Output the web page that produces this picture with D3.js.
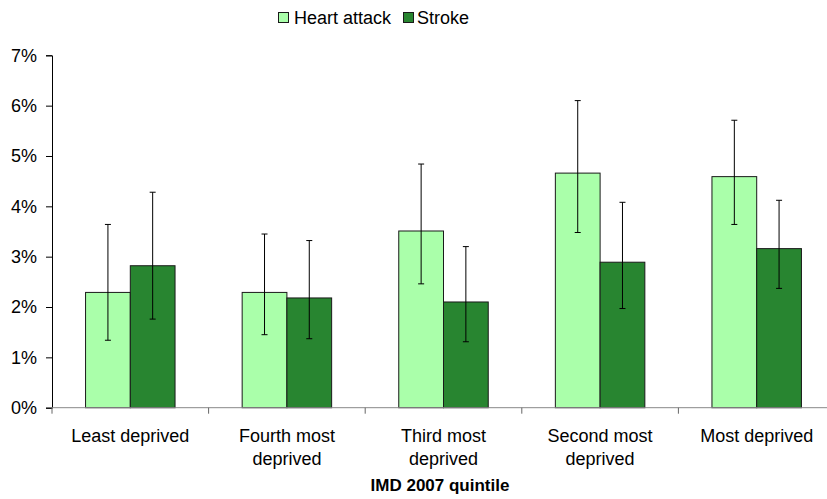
<!DOCTYPE html>
<html>
<head>
<meta charset="utf-8">
<script src="https://cdn.jsdelivr.net/npm/d3@7"></script>
<style>
  body { margin: 0; background: #fff; }
  text { font-family: "Liberation Sans", Arial, sans-serif; fill: #000; }
</style>
</head>
<body>
<div id="chart"></div>
<script>
// chart data
var categories = [["Least deprived"], ["Fourth most", "deprived"], ["Third most", "deprived"], ["Second most", "deprived"], ["Most deprived"]];
var seriesNames = ["Heart attack", "Stroke"];
var heartAttack = [0.0229, 0.0229, 0.0351, 0.0466, 0.0459];
var heartLow = [0.0134, 0.0145, 0.0246, 0.0348, 0.0364];
var heartHigh = [0.0364, 0.0345, 0.0484, 0.0610, 0.0571];
var stroke = [0.0282, 0.0218, 0.0210, 0.0289, 0.0316];
var strokeLow = [0.0176, 0.0137, 0.0131, 0.0197, 0.0237];
var strokeHigh = [0.0428, 0.0332, 0.0320, 0.0408, 0.0412];
var yTicks = [0, 0.01, 0.02, 0.03, 0.04, 0.05, 0.06, 0.07];
var xTitle = "IMD 2007 quintile";

var colors = ["#aaffaa", "#288530"];
var W = 827, H = 499;
var plotLeft = 52, plotTop = 55.3, plotBottom = 407.7, catW = 156.6;
var fs = 18;

var svg = d3.select("#chart").append("svg").attr("width", W).attr("height", H);

var keys = categories.map(function (c) { return c.join(" "); });
var x0 = d3.scaleBand().domain(keys).range([plotLeft, plotLeft + catW * 5]);
var barW = catW / 3.5;
var x1 = d3.scaleBand().domain(seriesNames).range([(catW - 2 * barW) / 2, (catW + 2 * barW) / 2]);
var y = d3.scaleLinear().domain([0, 0.07]).range([plotBottom, plotTop]);

var rows = keys.map(function (k, i) {
    return { key: k, vals: [
        { s: seriesNames[0], v: heartAttack[i], lo: heartLow[i], hi: heartHigh[i] },
        { s: seriesNames[1], v: stroke[i], lo: strokeLow[i], hi: strokeHigh[i] }
    ] };
});

// bars
var g = svg.selectAll("g.cat").data(rows).enter().append("g")
    .attr("class", "cat")
    .attr("transform", function (d) { return "translate(" + x0(d.key) + ",0)"; });

g.selectAll("rect").data(function (d) { return d.vals; }).enter().append("rect")
    .attr("x", function (d) { return x1(d.s); })
    .attr("y", function (d) { return y(d.v); })
    .attr("width", x1.bandwidth())
    .attr("height", function (d) { return y(0) - y(d.v); })
    .attr("fill", function (d, i) { return colors[i]; })
    .attr("stroke", "#1a1a1a")
    .attr("stroke-width", 1);

// error bars
var eb = g.selectAll("g.err").data(function (d) { return d.vals; }).enter().append("g").attr("class", "err")
    .attr("transform", function (d) { return "translate(" + (x1(d.s) + x1.bandwidth() / 2) + ",0)"; });
eb.append("line").attr("x1", 0).attr("x2", 0)
    .attr("y1", function (d) { return y(d.hi); }).attr("y2", function (d) { return y(d.lo); })
    .attr("stroke", "#000").attr("stroke-width", 1);
eb.append("line").attr("x1", -3).attr("x2", 3)
    .attr("y1", function (d) { return y(d.hi); }).attr("y2", function (d) { return y(d.hi); })
    .attr("stroke", "#000").attr("stroke-width", 1);
eb.append("line").attr("x1", -3).attr("x2", 3)
    .attr("y1", function (d) { return y(d.lo); }).attr("y2", function (d) { return y(d.lo); })
    .attr("stroke", "#000").attr("stroke-width", 1);

// y axis
var yAxis = d3.axisLeft(y).tickValues(yTicks).tickFormat(d3.format(".0%")).tickSize(6).tickPadding(9);
var yg = svg.append("g").attr("transform", "translate(" + plotLeft + ",0)").call(yAxis);
yg.select(".domain").attr("stroke", "#000");
yg.selectAll(".tick line").attr("stroke", "#000");
yg.selectAll(".tick text").attr("font-size", fs).attr("font-family", "Liberation Sans, Arial, sans-serif");

// x axis
var xg = svg.append("g").attr("transform", "translate(0," + plotBottom + ")");
xg.append("line").attr("x1", plotLeft).attr("x2", W).attr("y1", 0).attr("y2", 0).attr("stroke", "#888");
xg.selectAll("line.tk").data(d3.range(6)).enter().append("line").attr("class", "tk")
    .attr("x1", function (i) { return plotLeft + i * x0.bandwidth(); })
    .attr("x2", function (i) { return plotLeft + i * x0.bandwidth(); })
    .attr("y1", 0).attr("y2", 6).attr("stroke", "#666");

var lbl = xg.selectAll("text.cl").data(categories).enter().append("text").attr("class", "cl")
    .attr("text-anchor", "middle").attr("font-size", fs)
    .attr("transform", function (d, i) { return "translate(" + (x0(keys[i]) + x0.bandwidth() / 2) + ",34)"; });
lbl.selectAll("tspan").data(function (d) { return d; }).enter().append("tspan")
    .attr("x", 0).attr("dy", function (d, i) { return i ? 23 : 0; })
    .text(function (d) { return d; });

svg.append("text").attr("x", 440).attr("y", 491).attr("text-anchor", "middle")
    .attr("font-size", 17).attr("font-weight", "bold").text(xTitle);

// legend
var legBox = [278, 403], legText = [294, 417];
var leg = svg.selectAll("g.leg").data(seriesNames).enter().append("g").attr("class", "leg");
leg.append("rect").attr("x", function (d, i) { return legBox[i] + 0.5; }).attr("y", 12.5)
    .attr("width", 10).attr("height", 10)
    .attr("fill", function (d, i) { return colors[i]; }).attr("stroke", "#1a1a1a");
leg.append("text").attr("x", function (d, i) { return legText[i]; }).attr("y", 24)
    .attr("font-size", fs).text(function (d) { return d; });
</script>
</body>
</html>
